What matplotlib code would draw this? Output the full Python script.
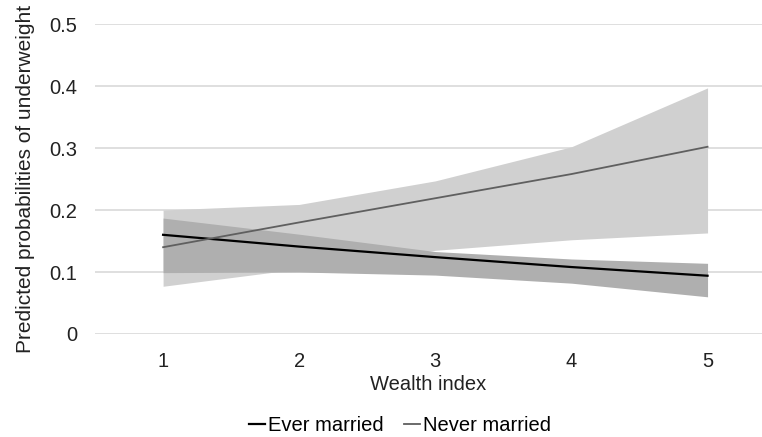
import numpy as np
import matplotlib
matplotlib.use('Agg')
import matplotlib.pyplot as plt

plt.rcParams['font.family'] = ['Liberation Sans', 'DejaVu Sans']

wealth = [1, 2, 3, 4, 5]

# predicted probabilities and confidence bands
ever_married = [0.160, 0.141, 0.124, 0.108, 0.094]
ever_lower = [0.099, 0.100, 0.095, 0.082, 0.060]
ever_upper = [0.187, 0.161, 0.133, 0.121, 0.114]

never_married = [0.140, 0.180, 0.219, 0.258, 0.302]
never_lower = [0.077, 0.105, 0.135, 0.152, 0.163]
never_upper = [0.200, 0.209, 0.247, 0.302, 0.397]

yticks = [0, 0.1, 0.2, 0.3, 0.4, 0.5]
ytick_labels = ['0', '0.1', '0.2', '0.3', '0.4', '0.5']

fig = plt.figure(figsize=(7.62, 4.37), dpi=100)
ax = fig.add_axes([0.1247, 0.2357, 0.8753, 0.7093])

ax.fill_between(wealth, never_lower, never_upper, color='#d0d0d0', lw=0, zorder=2)
ax.fill_between(wealth, ever_lower, ever_upper, color='#afafaf', lw=0, zorder=3)
ax.plot(wealth, ever_married, color='black', lw=1.6, zorder=5, label='Ever married')
ax.plot(wealth, never_married, color='#5f5f5f', lw=1.3, zorder=5, label='Never married')

ax.set_xlim(0.5, 5.4)
ax.set_ylim(0, 0.5)
ax.set_yticks(yticks)
ax.set_yticklabels(ytick_labels)
ax.set_xticks(wealth)
ax.grid(axis='y', color='#d9d9d9', lw=1.2, zorder=1)
ax.set_axisbelow(True)
for s in ax.spines.values():
    s.set_visible(False)
ax.tick_params(axis='both', length=0, labelsize=14.5, colors='#222222')
ax.tick_params(axis='y', pad=13)
ax.tick_params(axis='x', pad=13)

ax.set_xlabel('Wealth index', fontsize=14.5, color='#222222', labelpad=3)
ax.set_ylabel('Predicted probabilities of underweight', fontsize=15,
              color='#222222', labelpad=10)

fig.legend(loc='lower center', bbox_to_anchor=(0.525, -0.038), ncol=2, frameon=False,
           fontsize=14.5, handlelength=0.8, handletextpad=0.15, columnspacing=1.0)

fig.savefig('out.png', dpi=100)
